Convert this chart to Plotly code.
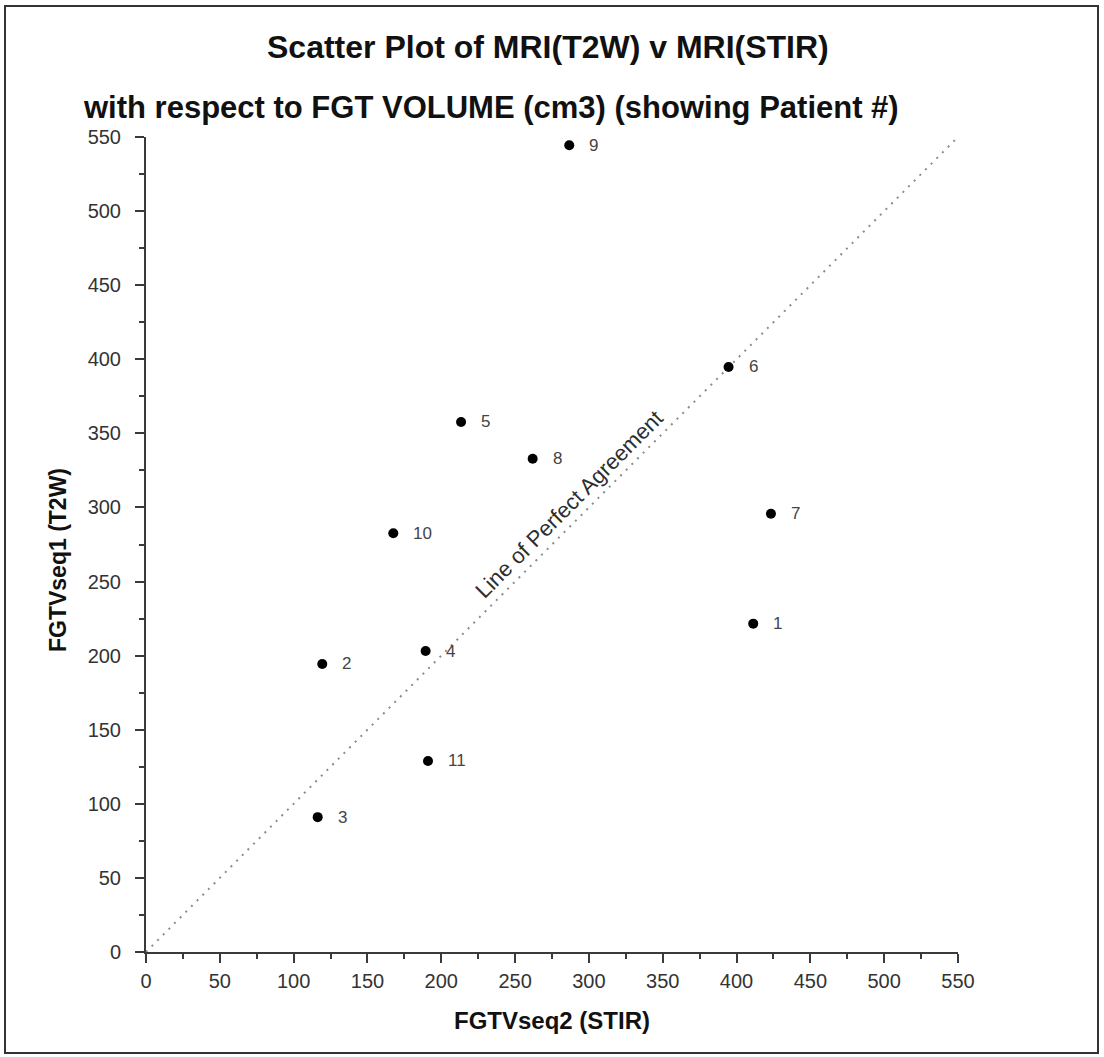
import plotly.graph_objects as go

# FGT volume (cm3) per patient, STIR sequence (x) vs T2W sequence (y)
patients = ["1", "2", "3", "4", "5", "6", "7", "8", "9", "10", "11"]
fgtv_stir = [411.3, 119.4, 116.3, 189.4, 213.4, 394.6, 423.3, 261.9, 286.7, 167.5, 191.0]
fgtv_t2w = [221.6, 194.4, 91.0, 203.1, 357.7, 394.8, 295.7, 332.9, 544.4, 282.6, 128.9]

# identity line endpoints and axis ticks
agreement = [0, 550]
tick_vals = list(range(0, 551, 50))

W, H = 1104, 1057
L, R, T, B = 146, 146, 137, 105
PW, PH = W - L - R, H - T - B


def px_x(px):
    return (px - L) / PW


def px_y(py):
    return (H - B - py) / PH


FONT = "Liberation Sans, Arial, sans-serif"
AX = "#3a3a3a"

fig = go.Figure()

fig.add_trace(go.Scatter(
    x=agreement, y=agreement, mode="lines",
    line=dict(color="#8c8c8c", width=2, dash="2px,6px"),
    hoverinfo="skip", showlegend=False,
))

fig.add_trace(go.Scatter(
    x=fgtv_stir, y=fgtv_t2w, mode="markers",
    marker=dict(color="black", size=10),
    showlegend=False,
))

annotations = []
for xv, yv, p in zip(fgtv_stir, fgtv_t2w, patients):
    annotations.append(dict(
        x=xv, y=yv, xref="x", yref="y", text=p, showarrow=False,
        xanchor="left", yanchor="middle", xshift=18,
        font=dict(family=FONT, size=17, color="#444444"),
    ))

annotations += [
    dict(x=286.5, y=302, xref="x", yref="y", text="Line of Perfect Agreement",
         showarrow=False, textangle=-45, xanchor="center", yanchor="middle",
         font=dict(family=FONT, size=22, color="#2e2e2e")),
    dict(x=px_x(548), y=px_y(47), xref="paper", yref="paper",
         text="<b>Scatter Plot of MRI(T2W) v MRI(STIR)</b>", showarrow=False,
         xanchor="center", yanchor="middle",
         font=dict(family=FONT, size=32, color="#111111")),
    dict(x=px_x(491), y=px_y(107), xref="paper", yref="paper",
         text="<b>with respect to FGT VOLUME (cm3) (showing Patient #)</b>", showarrow=False,
         xanchor="center", yanchor="middle",
         font=dict(family=FONT, size=31, color="#111111")),
    dict(x=px_x(552), y=px_y(1020), xref="paper", yref="paper",
         text="<b>FGTVseq2 (STIR)</b>", showarrow=False,
         xanchor="center", yanchor="middle",
         font=dict(family=FONT, size=24, color="#111111")),
    dict(x=px_x(58), y=px_y(560), xref="paper", yref="paper",
         text="<b>FGTVseq1 (T2W)</b>", showarrow=False, textangle=-90,
         xanchor="center", yanchor="middle",
         font=dict(family=FONT, size=23, color="#111111")),
]

axis_common = dict(
    range=[0, 550], tickvals=tick_vals, ticktext=[str(v) for v in tick_vals],
    showgrid=False, zeroline=False, showline=True, linecolor=AX, linewidth=2,
    ticks="outside", ticklen=9, tickwidth=2, tickcolor=AX,
    tickfont=dict(family=FONT, size=20, color="#333333"),
    minor=dict(dtick=25, tick0=0, ticks="outside", ticklen=5, tickwidth=2, tickcolor=AX),
    fixedrange=True,
)

fig.update_layout(
    width=W, height=H,
    margin=dict(l=L, r=R, t=T, b=B, pad=0),
    paper_bgcolor="white", plot_bgcolor="white",
    xaxis=dict(**axis_common, ticklabelstandoff=1),
    yaxis=dict(**axis_common, ticklabelstandoff=10),
    annotations=annotations,
    shapes=[dict(type="rect", xref="paper", yref="paper",
                 x0=px_x(5), x1=px_x(1098), y0=px_y(1053), y1=px_y(6),
                 line=dict(color="#333333", width=2), layer="below")],
)

fig.write_html("out.html")
